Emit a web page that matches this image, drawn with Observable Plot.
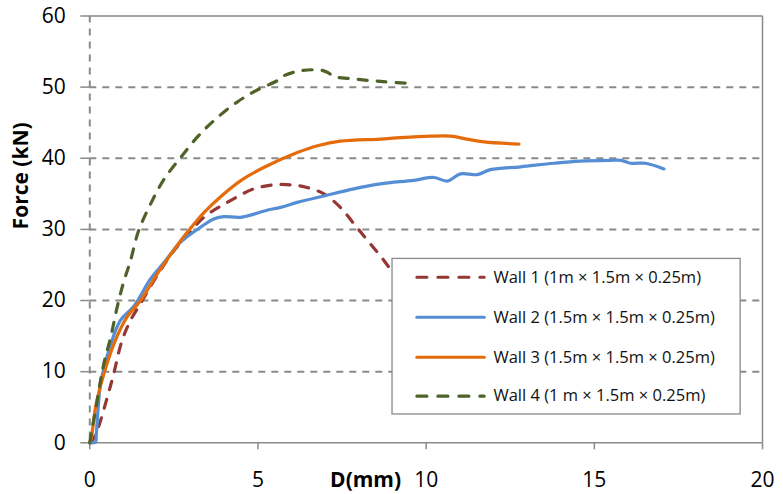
<!DOCTYPE html>
<html>
<head>
<meta charset="utf-8">
<script src="https://cdn.jsdelivr.net/npm/d3@7"></script>
<script src="https://cdn.jsdelivr.net/npm/@observablehq/plot@0.6"></script>
<style>
  html, body { margin: 0; padding: 0; background: #fff; }
  #chart svg { overflow: visible; display: block; }
</style>
</head>
<body>
<div id="chart"></div>
<script>
// ---- Data ----
const seriesNames = [
  "Wall 1 (1m × 1.5m × 0.25m)",
  "Wall 2 (1.5m × 1.5m × 0.25m)",
  "Wall 3 (1.5m × 1.5m × 0.25m)",
  "Wall 4 (1 m × 1.5m × 0.25m)"
];
const seriesColors = ["#953735", "#558ED5", "#E46C0A", "#4F6228"];
const seriesDashed = [true, false, false, true];

const wall1D = [0, 0.1, 0.22, 0.52, 0.71, 0.96, 1.21, 1.56, 2.0, 2.5, 2.9, 3.39, 4.09, 4.88, 5.57, 6.1, 6.46, 6.96, 7.45, 7.85, 8.3, 8.75, 9.2, 9.6];
const wall1F = [0, 0.5, 1.7, 6.4, 9.7, 14.4, 17.2, 20, 23.5, 27, 29.2, 31.7, 33.8, 35.7, 36.3, 36.2, 35.9, 35.0, 33.1, 30.8, 28.2, 25.6, 22.5, 19];

const wall2D = [0, 0.17, 0.19, 0.25, 0.32, 0.6, 0.91, 1.31, 1.8, 2.2, 2.7, 3.29, 3.7, 3.99, 4.48, 5.27, 5.67, 6.17, 6.96, 7.85, 8.64, 9.63, 10.23, 10.63, 11.02, 11.52, 11.91, 12.81, 13.8, 14.59, 15.48, 15.8, 16.08, 16.52, 17.07];
const wall2F = [0, 0.1, 1, 5, 8.3, 13.5, 17.2, 19.2, 23, 25.3, 28.2, 30.3, 31.5, 31.8, 31.7, 32.7, 33.1, 33.8, 34.7, 35.7, 36.4, 36.9, 37.3, 36.8, 37.8, 37.7, 38.4, 38.8, 39.3, 39.6, 39.7, 39.7, 39.3, 39.3, 38.5];

const wall3D = [0, 0.05, 0.17, 0.42, 0.76, 1.11, 1.51, 2.0, 2.7, 3.0, 3.4, 3.89, 4.5, 5.17, 6.17, 6.8, 7.45, 8.64, 9.24, 10.13, 10.73, 11.2, 11.72, 12.76];
const wall3F = [0, 0.8, 5, 9.7, 14.4, 17.7, 20, 23.7, 28.4, 30.2, 32.4, 34.6, 36.9, 38.7, 40.8, 41.8, 42.4, 42.7, 42.9, 43.1, 43.1, 42.7, 42.3, 42.0];

const wall4D = [0, 0.05, 0.17, 0.32, 0.45, 0.62, 0.81, 1.0, 1.21, 1.45, 1.8, 2.2, 2.7, 3.2, 3.69, 4.38, 4.98, 5.57, 5.77, 6.27, 6.86, 7.06, 7.26, 7.75, 8.64, 9.54];
const wall4F = [0, 1.5, 4.5, 8.8, 11.8, 14.8, 19, 22.5, 25.6, 29.8, 33.5, 37, 40.1, 43, 45.3, 47.9, 49.6, 50.9, 51.6, 52.3, 52.4, 52.1, 51.5, 51.2, 50.8, 50.5];

const xTicks = [0, 5, 10, 15, 20];
const yTicks = [0, 10, 20, 30, 40, 50, 60];
const gridTicks = [10, 20, 30, 40, 50];
const xLabel = "D(mm)";
const yLabel = "Force (kN)";

// ---- Build tables ----
const allD = [wall1D, wall2D, wall3D, wall4D];
const allF = [wall1F, wall2F, wall3F, wall4F];
const rows = [];
allD.forEach((ds, i) => ds.forEach((d, j) => rows.push({series: seriesNames[i], idx: i, d, f: allF[i][j]})));

// Legend layout (in data units of the chart)
const legendBox = {x1: 9.0, x2: 19.35, y1: 3.98, y2: 25.85};
const legendRowY = [23.27, 17.65, 12.03, 6.55];
const legendLineX = [9.74, 11.74];
const legendTextX = 12.0;
const legendRows = seriesNames.map((name, i) => ({name, i, y: legendRowY[i]}));

const grey = "#8a8a8a";
const dash = "9,10";
const font = "'Open Sans', 'Liberation Sans', sans-serif";

const marks = [];
// gridlines
marks.push(Plot.ruleY(gridTicks, {stroke: grey, strokeWidth: 2, strokeDasharray: "7,6"}));
marks.push(Plot.ruleX([0], {stroke: grey, strokeWidth: 2, strokeDasharray: "7,6"}));
marks.push(Plot.ruleY([0, 60], {stroke: grey, strokeWidth: 1.5}));
marks.push(Plot.ruleX([20], {stroke: grey, strokeWidth: 1.5}));
// axes
marks.push(Plot.axisX({ticks: xTicks, tickSize: 7, tickPadding: 22, tickFormat: d => d, stroke: grey, strokeWidth: 1.5, fill: "#000", fontSize: 21, label: null}));
marks.push(Plot.axisY({ticks: yTicks, tickSize: 9, tickPadding: 15, tickFormat: d => d, stroke: grey, strokeWidth: 1.5, fill: "#000", fontSize: 21, label: null}));
// series
seriesNames.forEach((name, i) => {
  marks.push(Plot.line(rows.filter(r => r.idx === i), {
    x: "d", y: "f", stroke: seriesColors[i], strokeWidth: 3.2,
    curve: "catmull-rom",
    strokeDasharray: seriesDashed[i] ? dash : null,
    strokeLinecap: "round"
  }));
});
// legend
marks.push(Plot.rect([legendBox], {x1: "x1", x2: "x2", y1: "y1", y2: "y2", fill: "#fff", stroke: grey, strokeWidth: 1.3}));
legendRows.forEach(r => {
  marks.push(Plot.ruleY([r], {y: "y", x1: legendLineX[0], x2: legendLineX[1], stroke: seriesColors[r.i], strokeWidth: 3.2,
    strokeDasharray: seriesDashed[r.i] ? "10,11" : null, strokeLinecap: "round"}));
});
marks.push(Plot.text(legendRows, {x: () => legendTextX, y: "y", text: "name", textAnchor: "start", fontSize: 16.5, fill: "#111"}));
// axis titles
marks.push(Plot.text([xLabel], {x: 8.2, y: 0, dy: 37, text: d => d, fontSize: 21, fontWeight: "bold", fill: "#000"}));
marks.push(Plot.text([yLabel], {frameAnchor: "left", dx: -69, rotate: -90, text: d => d, fontSize: 21, fontWeight: "bold", fill: "#000"}));

const chart = Plot.plot({
  width: 783,
  height: 494,
  marginLeft: 89.3,
  marginRight: 21,
  marginTop: 15.5,
  marginBottom: 51.7,
  style: {fontFamily: font, background: "#fff", overflow: "visible"},
  x: {domain: [0, 20], axis: null},
  y: {domain: [0, 60], axis: null},
  marks
});
document.getElementById("chart").appendChild(chart);
</script>
</body>
</html>
